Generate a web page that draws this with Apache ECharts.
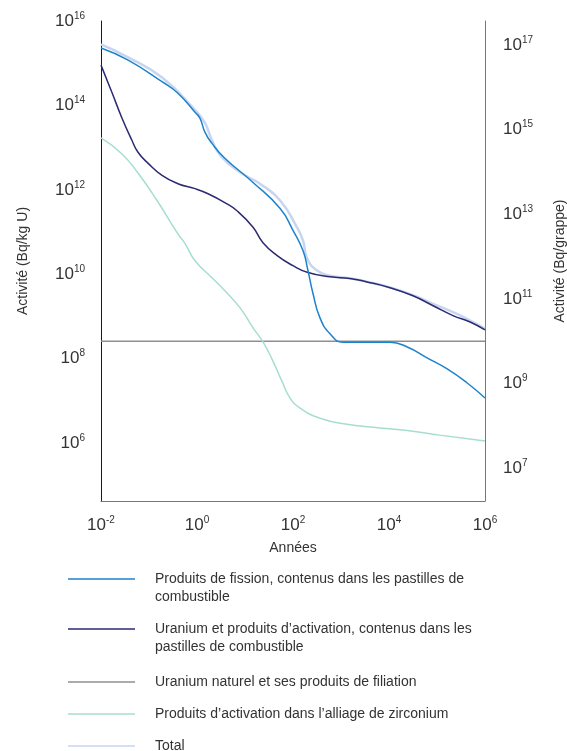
<!DOCTYPE html>
<html>
<head>
<meta charset="utf-8">
<script src="https://cdn.jsdelivr.net/npm/echarts@6/dist/echarts.min.js"></script>
<style>
  html, body { margin: 0; padding: 0; background: #fff; }
  #chart { width: 567px; height: 751px; }
</style>
</head>
<body>
<div id="chart"></div>
<script>
// Activité en fonction du temps (années), échelles logarithmiques
const fissionYears = [0.01, 0.036, 0.19, 0.4, 0.91, 1.15, 1.47, 2.05, 3.8, 14.7, 54, 100, 162, 205, 261, 365, 590, 1100, 10500, 24000, 62000, 160000, 420000, 1e6];
const fissionActivity = [2.3e15, 1.2e15, 3.6e14, 1.95e14, 6.9e13, 5.0e13, 2.3e13, 1.26e13, 5.6e12, 1.5e12, 3.6e11, 1.1e11, 3.6e10, 1.23e10, 3.5e9, 9.3e8, 3.9e8, 2.45e8, 2.45e8, 1.9e8, 1.05e8, 5.8e7, 2.7e7, 1.17e7];

const uraniumYears = [0.01, 0.017, 0.027, 0.044, 0.059, 0.095, 0.187, 0.4, 0.91, 1.7, 3.8, 6.8, 14.7, 23.7, 46, 100, 205, 590, 1540, 3470, 10500, 31600, 83000, 215000, 490000, 1e6];
const uraniumActivity = [9.0e14, 2.0e14, 5.2e13, 1.5e13, 7.8e12, 4.3e12, 2.2e12, 1.4e12, 1.07e12, 8.1e11, 5.0e11, 3.2e11, 1.3e11, 5.6e10, 2.8e10, 1.6e10, 1.1e10, 8.7e9, 8.0e9, 6.6e9, 4.8e9, 3.1e9, 1.8e9, 1.05e9, 7.4e8, 4.8e8];

const naturalYears = [0.01, 1e6];
const naturalActivity = [2.6e8, 2.6e8];

const zircYears = [0.01, 0.027, 0.059, 0.147, 0.4, 0.56, 0.91, 2.05, 3.8, 7.9, 14.7, 23.7, 38, 59, 87, 140, 365, 1330, 6500, 24000, 115000, 1e6];
const zircActivity = [1.7e13, 7.2e12, 2.5e12, 5.6e11, 9.1e10, 5.4e10, 2.1e10, 8.3e9, 4.1e9, 1.6e9, 5.4e8, 2.5e8, 8.9e7, 2.9e7, 1.17e7, 6.8e6, 3.9e6, 2.8e6, 2.3e6, 2.0e6, 1.55e6, 1.12e6];

const totalYears = [0.01, 0.036, 0.19, 0.91, 1.47, 2.05, 3.2, 7.9, 20.5, 54, 121, 162, 196, 316, 590, 1540, 3470, 10500, 31600, 83000, 260000, 490000, 1e6];
const totalActivity = [2.8e15, 1.4e15, 4.5e14, 7.8e13, 3.8e13, 1.5e13, 6.2e12, 2.6e12, 1.4e12, 5.6e11, 1.3e11, 6.3e10, 2.4e10, 1.23e10, 9.3e9, 8.0e9, 6.7e9, 4.9e9, 3.2e9, 2.0e9, 1.15e9, 8.0e8, 5.2e8];

// exposants affichés sur les axes
const xTickExp = [-2, 0, 2, 4, 6];
const leftTickExp = [6, 8, 10, 12, 14, 16];
const rightTickExp = [7, 9, 11, 13, 15, 17];

const seriesNames = [
  'Produits de fission, contenus dans les pastilles de combustible',
  'Uranium et produits d\u2019activation, contenus dans les pastilles de combustible',
  'Uranium naturel et ses produits de filiation',
  'Produits d\u2019activation dans l\u2019alliage de zirconium',
  'Total'
];
const legendLabels = [
  'Produits de fission, contenus dans les pastilles de\ncombustible',
  'Uranium et produits d\u2019activation, contenus dans les\npastilles de combustible',
  'Uranium naturel et ses produits de filiation',
  'Produits d\u2019activation dans l\u2019alliage de zirconium',
  'Total'
];
const seriesColors = ['#1b83cc', '#2b2a72', '#8f8f8f', '#a7ddd1', '#c7d5f0'];

const FONT = '"Liberation Sans", Arial, sans-serif';

// axes en log10 : on passe les exposants à ECharts
const pairs = (xs, ys) => xs.map((x, i) => [Math.log10(x), Math.log10(ys[i])]);

const powLabel = (v) => '{b|10}{s|' + Math.round(v) + '}';

const rich = {
  b: { fontSize: 17, lineHeight: 20, color: '#333', fontFamily: FONT },
  s: { fontSize: 10, lineHeight: 12, verticalAlign: 'top', color: '#333', fontFamily: FONT }
};

const lineSeries = (idx, xs, ys, width) => ({
  name: seriesNames[idx],
  type: 'line',
  data: pairs(xs, ys),
  smooth: 0.5,
  showSymbol: false,
  symbol: 'none',
  color: seriesColors[idx],
  lineStyle: { color: seriesColors[idx], width: width },
  yAxisIndex: 0,
  z: idx === 4 ? 1 : 2
});

// une légende par ligne pour placer chaque entrée
const legendIconY = [579, 629, 682, 714, 746];
const legends = seriesNames.map((name, i) => {
  const twoLines = legendLabels[i].indexOf('\n') >= 0;
  return {
    data: [name],
    left: 68,
    // ligne vide en tête : le trait tombe sur la première ligne du texte
    top: twoLines ? legendIconY[i] - 27 : legendIconY[i] - 9,
    padding: 0,
    selectedMode: false,
    icon: 'rect',
    itemWidth: 67,
    itemHeight: 1.5,
    formatter: () => (twoLines ? ' \n' : '') + legendLabels[i],
    textStyle: {
      fontSize: 14,
      lineHeight: 18,
      color: '#333',
      fontFamily: FONT,
      padding: [0, 0, 0, 15]
    }
  };
});

const option = {
  animation: false,
  backgroundColor: '#fff',
  grid: { left: 101, right: 82, top: 21, bottom: 250, containLabel: false, outerBoundsMode: 'none' },
  legend: legends,
  xAxis: {
    type: 'value',
    min: -2,
    max: 6,
    name: 'Ann\u00e9es',
    nameLocation: 'middle',
    nameGap: 40,
    nameTextStyle: { fontSize: 14, color: '#333', fontFamily: FONT },
    axisLine: { show: true, onZero: false, lineStyle: { color: '#777', width: 1 } },
    axisTick: { show: false },
    splitLine: { show: false },
    axisLabel: { margin: 14, customValues: xTickExp, formatter: powLabel, rich: rich }
  },
  yAxis: [
    {
      type: 'value',
      min: 4.63,
      max: 16,
      position: 'left',
      name: 'Activit\u00e9 (Bq/kg U)',
      nameLocation: 'middle',
      nameRotate: 90,
      nameGap: 71,
      nameTextStyle: { fontSize: 14, color: '#333', fontFamily: FONT },
      axisLine: { show: true, onZero: false, lineStyle: { color: '#1a1a1a', width: 1 } },
      axisTick: { show: false },
      splitLine: { show: false },
      axisLabel: { margin: 16, customValues: leftTickExp, formatter: powLabel, rich: rich }
    },
    {
      type: 'value',
      min: 6.22,
      max: 17.57,
      position: 'right',
      name: 'Activit\u00e9 (Bq/grappe)',
      nameLocation: 'middle',
      nameRotate: 90,
      nameGap: 68,
      nameTextStyle: { fontSize: 14, color: '#333', fontFamily: FONT },
      axisLine: { show: true, onZero: false, lineStyle: { color: '#777', width: 1 } },
      axisTick: { show: false },
      splitLine: { show: false },
      axisLabel: { margin: 18, customValues: rightTickExp, formatter: powLabel, rich: rich }
    }
  ],
  series: [
    lineSeries(4, totalYears, totalActivity, 2.5),
    lineSeries(2, naturalYears, naturalActivity, 1.5),
    lineSeries(3, zircYears, zircActivity, 1.5),
    lineSeries(1, uraniumYears, uraniumActivity, 1.5),
    lineSeries(0, fissionYears, fissionActivity, 1.5)
  ]
};

const chart = echarts.init(document.getElementById('chart'), null, { renderer: 'canvas' });
chart.setOption(option);
window.addEventListener('resize', () => chart.resize());
</script>
</body>
</html>
